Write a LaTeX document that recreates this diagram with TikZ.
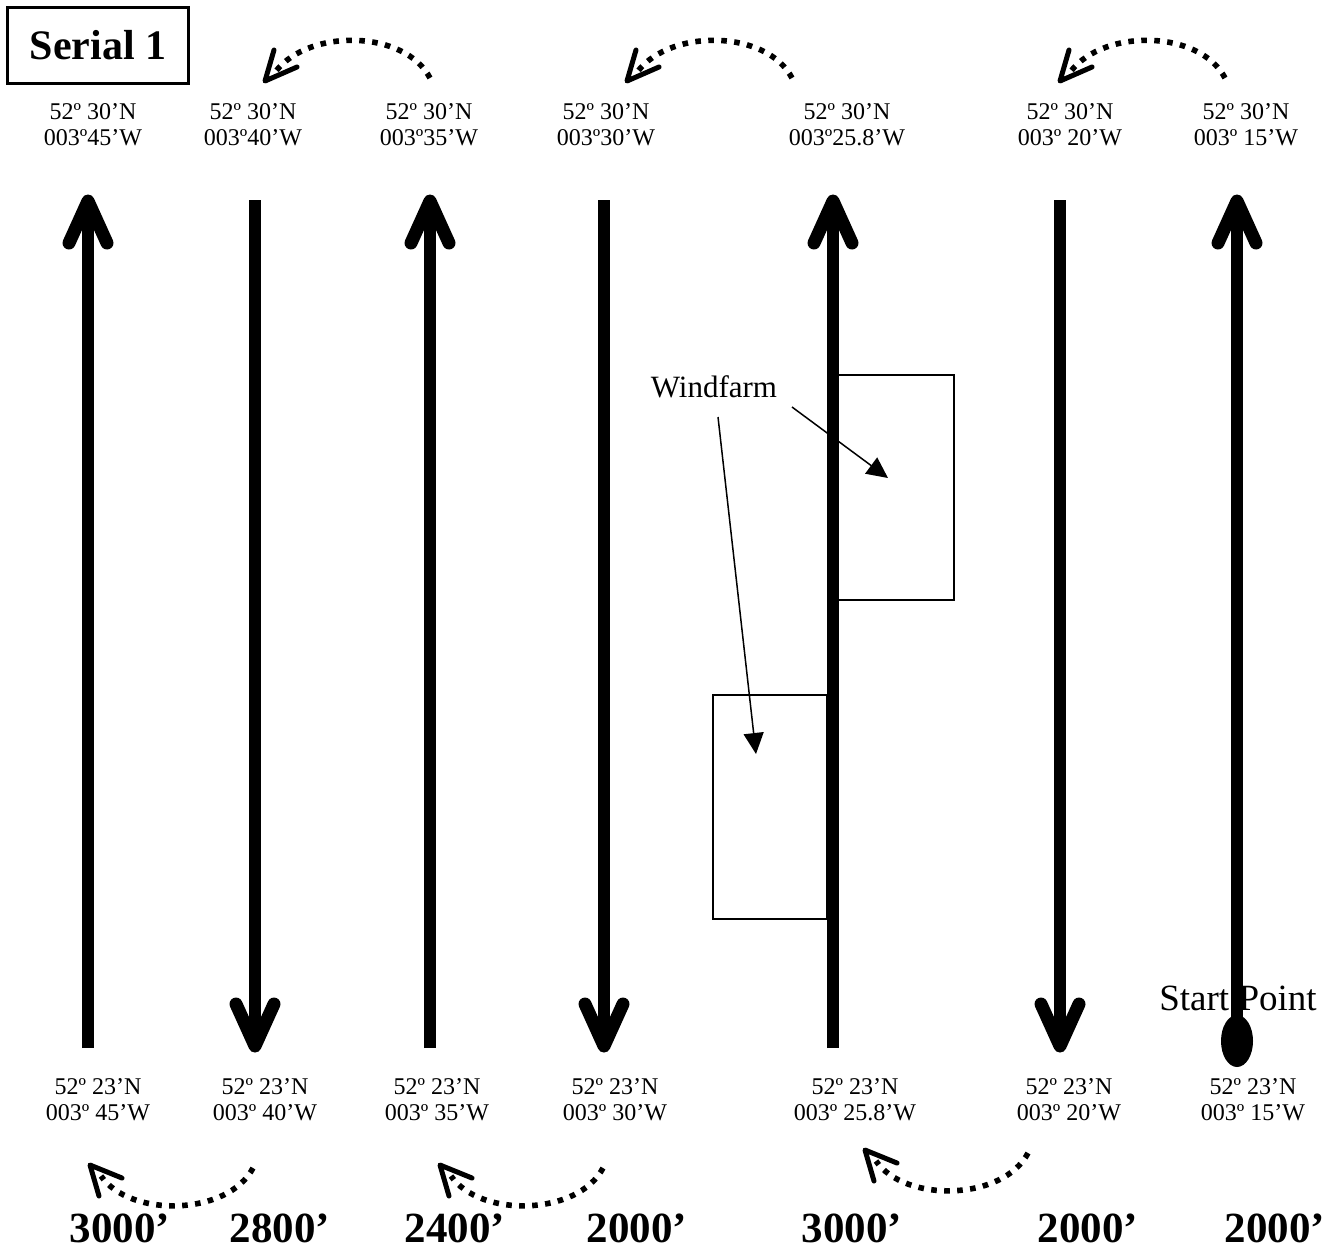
\documentclass[tikz,border=0pt]{standalone}
\usepackage{fontspec}
\setmainfont{Liberation Serif}
\usetikzlibrary{arrows.meta,shapes.geometric}
\tikzset{
  lbl/.style={font=\fontsize{12}{13}\selectfont, align=center, inner sep=0pt},
  alt/.style={font=\fontsize{21.5}{23}\selectfont\bfseries, inner sep=0pt, anchor=base},
  shaft/.style={line width=6pt},
  vhead/.style={line width=6.5pt, line cap=round, line join=round},
  dotpath/.style={line width=2.8pt, dash pattern=on 2.8pt off 3.7pt},
  dothead/.style={line width=2.5pt, line cap=round, line join=round},
  farm/.style={line width=0.75pt},
  farmarrow/.style={line width=0.75pt, -{Triangle[length=10.5pt,width=10pt]}},
}
\begin{document}
\begin{tikzpicture}[x=0.5pt,y=-0.5pt]
\useasboundingbox (0,0) rectangle (1343,1250);

% Serial box
\node[draw, line width=1.5pt, minimum width=90.5pt, minimum height=38pt,
      font=\fontsize{21}{23}\selectfont\bfseries, inner sep=0pt] (serial) at (98,45) {Serial 1};

% top labels
\node[lbl] (tl1) at (93,125)  {52º 30’N\\003º45’W};
\node[lbl] (tl2) at (253,125) {52º 30’N\\003º40’W};
\node[lbl] (tl3) at (429,125) {52º 30’N\\003º35’W};
\node[lbl] (tl4) at (606,125) {52º 30’N\\003º30’W};
\node[lbl] (tl5) at (847,125) {52º 30’N\\003º25.8’W};
\node[lbl] (tl6) at (1070,125) {52º 30’N\\003º 20’W};
\node[lbl] (tl7) at (1246,125) {52º 30’N\\003º 15’W};

% bottom labels
\node[lbl] (bl1) at (98,1100)  {52º 23’N\\003º 45’W};
\node[lbl] (bl2) at (265,1100) {52º 23’N\\003º 40’W};
\node[lbl] (bl3) at (437,1100) {52º 23’N\\003º 35’W};
\node[lbl] (bl4) at (615,1100) {52º 23’N\\003º 30’W};
\node[lbl] (bl5) at (855,1100) {52º 23’N\\003º 25.8’W};
\node[lbl] (bl6) at (1069,1100) {52º 23’N\\003º 20’W};
\node[lbl] (bl7) at (1253,1100) {52º 23’N\\003º 15’W};

% altitudes
\node[alt] (a1) at (120,1242) {3000’};
\node[alt] (a2) at (280,1242) {2800’};
\node[alt] (a3) at (455,1242) {2400’};
\node[alt] (a4) at (637,1242) {2000’};
\node[alt] (a5) at (852,1242) {3000’};
\node[alt] (a6) at (1088,1242) {2000’};
\node[alt] (a7) at (1275,1242) {2000’};

% windfarm rectangles
\draw[farm] (838,375) rectangle (954,600);
\draw[farm] (713,695) rectangle (827,919);

% Start point
\node[font=\fontsize{18.5}{20}\selectfont, inner sep=0pt, anchor=base] (sp) at (1238,1010) {Start Point};

% vertical track lines: coordinates
\foreach \i/\x in {1/88,2/255,3/430,4/604,5/833,6/1060,7/1237}{
  \coordinate (t\i) at (\x,201);
  \coordinate (b\i) at (\x,1046);
}
% up lines
\foreach \i in {1,3,5}{
  \draw[shaft] ([yshift=-1pt]b\i) -- ([yshift=-3pt]t\i);
  \draw[vhead] ([shift={(-19,42)}]t\i) -- (t\i) -- ([shift={(19,42)}]t\i);
}
% down lines
\foreach \i in {2,4,6}{
  \draw[shaft] ([yshift=0.5pt]t\i) -- ([yshift=3pt]b\i);
  \draw[vhead] ([shift={(-19,-42)}]b\i) -- (b\i) -- ([shift={(19,-42)}]b\i);
}
% start point line
\node[ellipse, fill=black, minimum width=16pt, minimum height=26pt, inner sep=0pt] (spdot) at (1237,1041) {};
\draw[shaft] (spdot.center) -- ([yshift=-3pt]t7);
\draw[vhead] ([shift={(-19,42)}]t7) -- (t7) -- ([shift={(19,42)}]t7);

% windfarm label and arrows
\node[font=\fontsize{15.5}{17}\selectfont, inner sep=0pt, anchor=base] (wf) at (714,397) {Windfarm};
\coordinate (wfs1) at (792,407);
\coordinate (wfe1) at (888,478);
\coordinate (wfs2) at (718,417);
\coordinate (wfe2) at (756,754);
\draw[farmarrow] (wfs1) -- (wfe1);
\draw[farmarrow] (wfs2) -- (wfe2);

% top dotted turn arrows
\foreach \j/\dx in {1/0,2/362,3/795}{
  \coordinate (ts\j) at (430+\dx,78);
  \coordinate (tc1\j) at (405+\dx,30);
  \coordinate (tc2\j) at (310+\dx,28);
  \coordinate (te\j) at (276+\dx,71);
  \coordinate (tt\j) at (265+\dx,81);
  \draw[dotpath] (ts\j) .. controls (tc1\j) and (tc2\j) .. (te\j);
  \draw[dothead] ([shift={(9,-31)}]tt\j) -- (tt\j) -- ([shift={(32,-14)}]tt\j);
}
% bottom dotted turn arrows
\foreach \j/\dx/\dy in {1/0/0,2/350/0,3/775/-15}{
  \coordinate (bs\j) at (253+\dx,1168+\dy);
  \coordinate (bc1\j) at (228+\dx,1216+\dy);
  \coordinate (bc2\j) at (130+\dx,1218+\dy);
  \coordinate (be\j) at (101+\dx,1176+\dy);
  \coordinate (bt\j) at (90+\dx,1165+\dy);
  \draw[dotpath] (bs\j) .. controls (bc1\j) and (bc2\j) .. (be\j);
  \draw[dothead] ([shift={(9,31)}]bt\j) -- (bt\j) -- ([shift={(32,13)}]bt\j);
}
\end{tikzpicture}
\end{document}
